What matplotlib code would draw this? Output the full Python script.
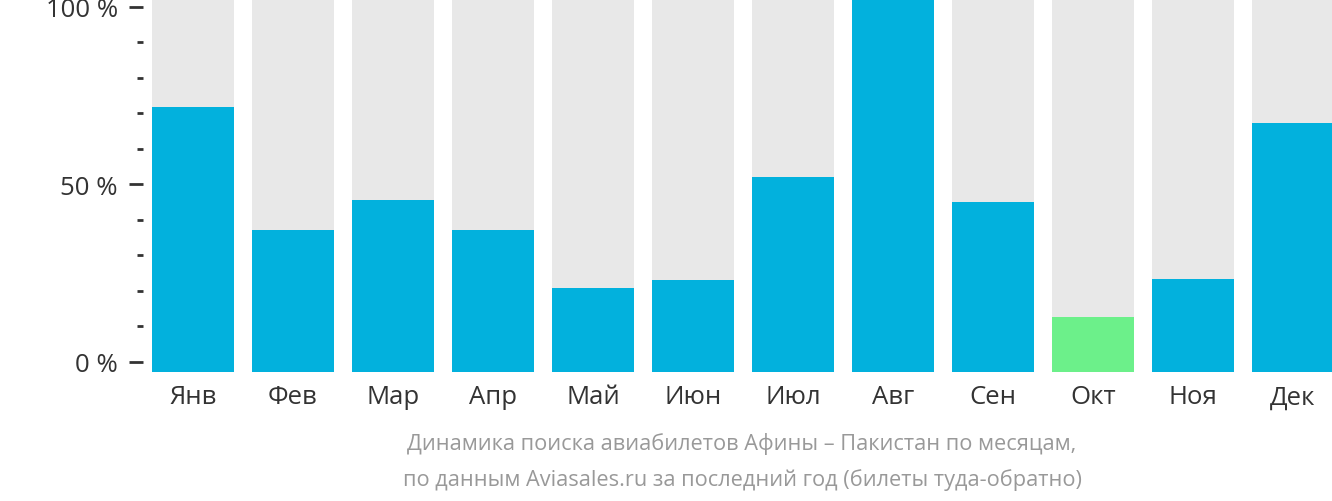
import matplotlib
matplotlib.use("Agg")
import matplotlib.pyplot as plt
from matplotlib.ticker import MultipleLocator, FixedLocator

plt.rcParams["font.family"] = ["Open Sans", "DejaVu Sans"]

months = ["Янв", "Фев", "Мар", "Апр", "Май", "Июн",
          "Июл", "Авг", "Сен", "Окт", "Ноя", "Дек"]
values = [71.0, 38.1, 46.1, 38.1, 22.5, 24.7,
          52.3, 100.0, 45.6, 14.7, 24.9, 66.8]
highlight = "Окт"

BLUE = "#02b1dd"
GREEN = "#6cf08a"
GREY = "#e8e8e8"
TEXT = "#333333"

fig = plt.figure(figsize=(13.32, 5.02), dpi=100)

# bars axis
ax = fig.add_axes([143 / 1332, 129 / 502, 1200 / 1332, 373 / 502])
x = list(range(len(months)))
colors = [GREEN if m == highlight else BLUE for m in months]

ax.bar(x, [100] * len(x), width=0.82, color=GREY, zorder=1)
ax.bar(x, values, width=0.82, color=colors, zorder=2)

ax.set_xlim(-0.5, 11.5)
ax.set_ylim(0, 100)
ax.set_xticks(x)
ax.set_xticklabels(months, fontsize=18.5, color=TEXT)
ax.tick_params(axis="x", length=0, pad=9)
ax.set_yticks([])
for s in ax.spines.values():
    s.set_visible(False)

# percentage scale (slightly offset from the bars, as in the source)
ay = ax.twinx()
ay.yaxis.tick_left()
ay.set_ylim(-2.82, 102.25)
ay.yaxis.set_major_locator(FixedLocator([0, 50, 100]))
ay.yaxis.set_minor_locator(MultipleLocator(10))
ay.set_yticklabels(["0 %", "50 %", "100 %"], fontsize=18.5, color=TEXT)
ay.tick_params(axis="y", which="major", length=10, width=2, color=TEXT, pad=8)
ay.tick_params(axis="y", which="minor", length=4, width=2, color=TEXT)
for s in ay.spines.values():
    s.set_visible(False)

fig.text(742 / 1332, 1 - 444 / 502,
         "Динамика поиска авиабилетов Афины – Пакистан по месяцам,",
         ha="center", va="center", fontsize=15.7, color="#999999")
fig.text(742 / 1332, 1 - 480 / 502,
         "по данным Aviasales.ru за последний год (билеты туда-обратно)",
         ha="center", va="center", fontsize=15.7, color="#999999")

fig.savefig("out.png", dpi=100)
